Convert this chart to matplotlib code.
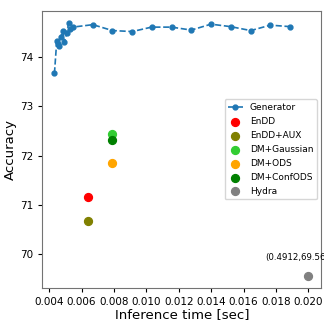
import numpy as np
import matplotlib
matplotlib.use('Agg')
import matplotlib.pyplot as plt

# generator sweep (inference time, accuracy)
gen_time = [0.00433, 0.00447, 0.00454, 0.00460, 0.00472, 0.00485, 0.00495, 0.00510,
            0.00520, 0.00532, 0.00546, 0.00670, 0.00791, 0.00913, 0.01032, 0.01156,
            0.01277, 0.01399, 0.01520, 0.01644, 0.01765, 0.01887]
gen_acc = [73.67, 74.32, 74.27, 74.22, 74.41, 74.54, 74.31, 74.50,
           74.69, 74.57, 74.61, 74.66, 74.54, 74.52, 74.61, 74.61,
           74.55, 74.67, 74.62, 74.54, 74.65, 74.62]

methods = ['EnDD', 'EnDD+AUX', 'DM+Gaussian', 'DM+ODS', 'DM+ConfODS', 'Hydra']
m_time = [0.00639, 0.00639, 0.00791, 0.00791, 0.00791, 0.0200]
m_acc = [71.15, 70.67, 72.43, 71.84, 72.32, 69.56]
m_color = ['red', 'olive', 'limegreen', 'orange', 'green', 'gray']

hydra_label = '(0.4912,69.56)'

fig = plt.figure(figsize=(3.24, 3.2), dpi=100)
ax = fig.add_axes([0.130, 0.100, 0.862, 0.866])

ax.plot(gen_time, gen_acc, '--o', color='tab:blue', ms=3.5, lw=1.2, label='Generator')
for t, a, c, n in zip(m_time, m_acc, m_color, methods):
    ax.scatter(t, a, s=32, color=c, label=n, zorder=3)

# the reference cuts this label at the right edge as well
ax.text(0.01734, 69.92, hydra_label, fontsize=6.2, va='center', ha='left')

ax.set_xlim(0.00357, 0.0208)
ax.set_ylim(69.31, 74.94)
ax.set_xticks(np.arange(0.004, 0.0201, 0.002))
ax.set_yticks([70, 71, 72, 73, 74])
ax.tick_params(labelsize=7.5, length=3)
ax.set_xlabel('Inference time [sec]', fontsize=9.5, labelpad=1)
ax.set_ylabel('Accuracy', fontsize=9.5, labelpad=2)
for s in ax.spines.values():
    s.set_color('0.45')

ax.legend(loc='center right', fontsize=6.5, handlelength=1.6, labelspacing=0.55)

fig.savefig('out.png', dpi=100)
